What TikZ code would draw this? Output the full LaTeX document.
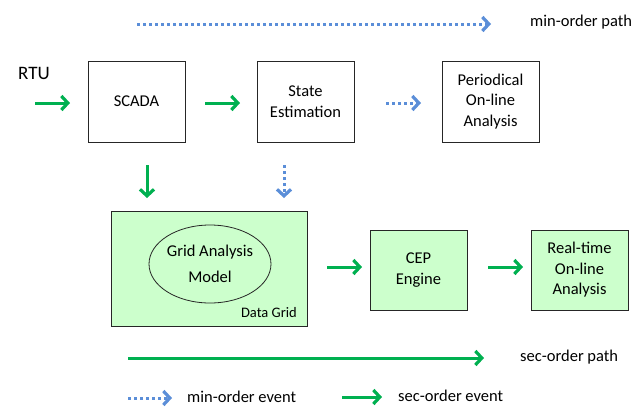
\documentclass[tikz,border=0pt]{standalone}
\usepackage{fontspec}
\setmainfont{Carlito}
\usetikzlibrary{arrows.meta,shapes.geometric}
\definecolor{secgreen}{HTML}{00B050}
\definecolor{minblue}{HTML}{5B8ED8}
\definecolor{gridfill}{HTML}{CCFFCC}
\tikzset{
  box/.style={draw=black!85, line width=0.8pt, minimum width=97pt, minimum height=81pt,
              align=center, font=\fontsize{16.5}{20.5}\selectfont, inner sep=0pt},
  gbox/.style={box, fill=gridfill, minimum height=80pt},
  lbl/.style={font=\fontsize{16.5}{20.5}\selectfont, inner sep=0pt, anchor=west},
  secarrow/.style={draw=secgreen, line width=3pt,
                   -{Straight Barb[length=6.5pt,width=14pt,line width=3.2pt]}},
  minarrow/.style={draw=minblue, line width=3pt, dash pattern=on 3pt off 3pt,
                   -{Straight Barb[length=6.5pt,width=14pt,line width=3.2pt]}},
}
\begin{document}
\begin{tikzpicture}[x=1pt,y=-1pt]
\useasboundingbox (0,0) rectangle (640,408);

% legend for the min-order path
\coordinate (mp1) at (137,24);
\coordinate (mp2) at (491,24);
\draw[minarrow] (mp1) -- (mp2);
\node[lbl] (mpl) at (530,22) {min-order path};

% upper row
\node[lbl, font=\fontsize{19}{20}\selectfont] (rtu) at (18,73) {RTU};
\coordinate (rtuA) at (35,103);
\node[box] (scada) at (136.5,101.5) {SCADA};
\node[box] (se) at (305.5,101.5) {State\\Estimation};
\node[box] (poa) at (490.5,101.5) {Periodical\\On-line\\Analysis};

\draw[secarrow] (rtuA) -- (70,103);
\draw[secarrow] (205,103) -- (240,103);
\draw[minarrow] (386,103) -- (421,103);

% lower row
\node[box, fill=gridfill, minimum width=196pt, minimum height=115pt] (dg) at (209,268.5) {};
\node[font=\fontsize{14.5}{16}\selectfont, inner sep=0pt, anchor=east] (dgl) at (297,313) {Data Grid};
\node[draw=black!85, line width=0.8pt, ellipse, minimum width=121pt, minimum height=78pt,
      align=center, font=\fontsize{16.5}{26}\selectfont, inner sep=0pt] (gam) at (210,264)
      {Grid Analysis\\Model};
\node[gbox] (cep) at (418.5,270) {CEP\\Engine};
\node[gbox] (rta) at (579.5,270) {Real-time\\On-line\\Analysis};

\draw[secarrow] (147,165) -- (147,198);
\draw[minarrow] (284,165) -- (284,198);
\draw[secarrow] (327,267) -- (362,267);
\draw[secarrow] (488,267) -- (523,267);

% legend
\draw[secarrow] (128,358) -- (484,358);
\node[lbl] (spl) at (520,357) {sec-order path};
\draw[minarrow] (128,398) -- (172,398);
\node[lbl] (mel) at (187,397) {min-order event};
\draw[secarrow] (342,397) -- (382,397);
\node[lbl] (sel) at (398,396) {sec-order event};
\end{tikzpicture}
\end{document}
